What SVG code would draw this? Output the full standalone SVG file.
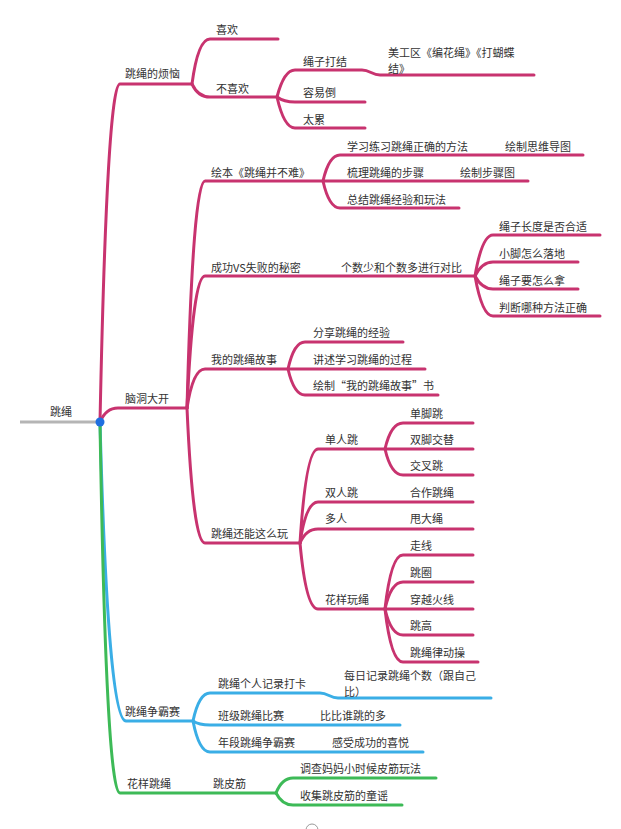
<svg xmlns="http://www.w3.org/2000/svg" width="621" height="829" viewBox="0 0 621 829">
<style>
text{font-family:"Noto Sans CJK SC","Noto Sans",sans-serif;font-size:11px;fill:#333;}
.m{fill:none;stroke:#c8336f;stroke-width:3;stroke-linecap:round;stroke-linejoin:round;}
.b{fill:none;stroke:#3aaee6;stroke-width:3;stroke-linecap:round;}
.g{fill:none;stroke:#3dba57;stroke-width:3;stroke-linecap:round;}
</style>
<rect width="621" height="829" fill="#fff"/>
<g id="connectors">
<path d="M20,422 L100,422" fill="none" stroke="#b5b5b5" stroke-width="3"/>
<path class="b" d="M100,422 Q108,721 126,721 L193,721"/>
<path class="g" d="M100,422 Q106,793 120,793 L276,793"/>
<path class="m" d="M100,422 Q107,84 120,84 L192,84"/>
<path class="m" d="M100,422 Q106,408 118,408 L187,408"/>
<path class="m" d="M192,84 Q198,39 210,39 L278,39"/>
<path class="m" d="M192,84 Q198,97 210,97 L277,97"/>
<path class="m" d="M277,97 Q284,70 295,70 L362,70 C370,70 372,75 380,75 L534,75"/>
<path class="m" d="M277,97 Q284,102 295,102 L365,102"/>
<path class="m" d="M277,97 Q284,128 295,128 L365,128"/>
<path class="m" d="M187,408 Q193,181 205,181 L323,181"/>
<path class="m" d="M187,408 Q193,276 205,276 L475,276"/>
<path class="m" d="M187,408 Q193,369 205,369 L288,369"/>
<path class="m" d="M187,408 Q193,543 205,543 L300,543"/>
<path class="m" d="M323,181 Q329,155 340,155 L583,155"/>
<path class="m" d="M323,181 L528,181"/>
<path class="m" d="M323,181 Q329,208 340,208 L459,208"/>
<path class="m" d="M475,276 Q482,235 493,235 L600,235"/>
<path class="m" d="M475,276 Q482,262 493,262 L578,262"/>
<path class="m" d="M475,276 Q482,289 493,289 L578,289"/>
<path class="m" d="M475,276 Q482,316 493,316 L600,316"/>
<path class="m" d="M288,369 Q294,342 305,342 L403,342"/>
<path class="m" d="M288,369 L425,369"/>
<path class="m" d="M288,369 Q294,395 305,395 L438,395"/>
<path class="m" d="M300,543 Q306,449 318,449 L385,449"/>
<path class="m" d="M300,543 Q306,502 318,502 L473,502"/>
<path class="m" d="M300,543 Q306,529 318,529 L473,529"/>
<path class="m" d="M300,543 Q306,609 318,609 L385,609"/>
<path class="m" d="M385,449 Q391,423 403,423 L473,423"/>
<path class="m" d="M385,449 L473,449"/>
<path class="m" d="M385,449 Q391,475 403,475 L473,475"/>
<path class="m" d="M385,609 Q391,555 403,555 L473,555"/>
<path class="m" d="M385,609 Q391,582 403,582 L473,582"/>
<path class="m" d="M385,609 L473,609"/>
<path class="m" d="M385,609 Q391,635 403,635 L473,635"/>
<path class="m" d="M385,609 Q391,662 403,662 L478,662"/>
<path class="b" d="M193,721 Q199,693 210,693 L320,693 C328,693 330,698 338,698 L491,698"/>
<path class="b" d="M193,721 Q199,725 210,725 L400,725"/>
<path class="b" d="M193,721 Q199,752 210,752 L423,752"/>
<path class="g" d="M276,793 Q282,778 293,778 L436,778"/>
<path class="g" d="M276,793 Q282,805 293,805 L402,805"/>
<path d="M306,830 A6,6 0 0 1 318,830" fill="none" stroke="#999" stroke-width="1"/>
</g>
<circle cx="100" cy="422" r="4.5" fill="#1f6fe0"/>
<g id="n-root"><text x="50" y="416">跳绳</text></g>
<g id="n-fannao"><text x="125" y="78">跳绳的烦恼</text></g>
<g id="n-xihuan"><text x="216" y="34">喜欢</text></g>
<g id="n-buxihuan"><text x="216" y="93">不喜欢</text></g>
<g id="n-dajie"><text x="303" y="66">绳子打结</text></g>
<g id="n-meigong"><text x="388" y="57">美工区《编花绳》《打蝴蝶</text><text x="388" y="73">结》</text></g>
<g id="n-rongyi"><text x="303" y="97">容易倒</text></g>
<g id="n-tailei"><text x="303" y="124">太累</text></g>
<g id="n-naodong"><text x="125" y="403">脑洞大开</text></g>
<g id="n-huiben"><text x="211" y="177">绘本《跳绳并不难》</text></g>
<g id="n-xuexi"><text x="347" y="151">学习练习跳绳正确的方法</text></g>
<g id="n-siwei"><text x="505" y="151">绘制思维导图</text></g>
<g id="n-shuli"><text x="347" y="177">梳理跳绳的步骤</text></g>
<g id="n-buzhou"><text x="460" y="177">绘制步骤图</text></g>
<g id="n-zongjie"><text x="347" y="204">总结跳绳经验和玩法</text></g>
<g id="n-chenggong"><text x="211" y="272">成功VS失败的秘密</text></g>
<g id="n-duibi"><text x="341" y="272">个数少和个数多进行对比</text></g>
<g id="n-changdu"><text x="499" y="231">绳子长度是否合适</text></g>
<g id="n-luodi"><text x="499" y="258">小脚怎么落地</text></g>
<g id="n-zenna"><text x="499" y="285">绳子要怎么拿</text></g>
<g id="n-panduan"><text x="499" y="312">判断哪种方法正确</text></g>
<g id="n-gushi"><text x="211" y="364">我的跳绳故事</text></g>
<g id="n-fenxiang"><text x="313" y="337">分享跳绳的经验</text></g>
<g id="n-jiangshu"><text x="313" y="364">讲述学习跳绳的过程</text></g>
<g id="n-huizhi"><text x="313" y="390">绘制“我的跳绳故事”书</text></g>
<g id="n-zheme"><text x="211" y="538">跳绳还能这么玩</text></g>
<g id="n-danren"><text x="325" y="444">单人跳</text></g>
<g id="n-danjiao"><text x="410" y="418">单脚跳</text></g>
<g id="n-shuangjiao"><text x="410" y="444">双脚交替</text></g>
<g id="n-jiaocha"><text x="410" y="470">交叉跳</text></g>
<g id="n-shuangren"><text x="325" y="497">双人跳</text></g>
<g id="n-hezuo"><text x="410" y="497">合作跳绳</text></g>
<g id="n-duoren"><text x="325" y="523">多人</text></g>
<g id="n-shuai"><text x="410" y="523">甩大绳</text></g>
<g id="n-huayangwan"><text x="325" y="604">花样玩绳</text></g>
<g id="n-zouxian"><text x="410" y="550">走线</text></g>
<g id="n-tiaoquan"><text x="410" y="577">跳圈</text></g>
<g id="n-chuanyue"><text x="410" y="604">穿越火线</text></g>
<g id="n-tiaogao"><text x="410" y="630">跳高</text></g>
<g id="n-lvdong"><text x="410" y="657">跳绳律动操</text></g>
<g id="n-zhengba"><text x="125" y="716">跳绳争霸赛</text></g>
<g id="n-daka"><text x="218" y="688">跳绳个人记录打卡</text></g>
<g id="n-meiri"><text x="344" y="680">每日记录跳绳个数（跟自己</text><text x="344" y="696">比）</text></g>
<g id="n-banji"><text x="218" y="720">班级跳绳比赛</text></g>
<g id="n-bibi"><text x="320" y="720">比比谁跳的多</text></g>
<g id="n-nianduan"><text x="218" y="747">年段跳绳争霸赛</text></g>
<g id="n-ganshou"><text x="332" y="747">感受成功的喜悦</text></g>
<g id="n-huayang"><text x="127" y="788">花样跳绳</text></g>
<g id="n-tiaopijin"><text x="213" y="788">跳皮筋</text></g>
<g id="n-diaocha"><text x="300" y="773">调查妈妈小时候皮筋玩法</text></g>
<g id="n-shouji"><text x="300" y="800">收集跳皮筋的童谣</text></g>
</svg>
